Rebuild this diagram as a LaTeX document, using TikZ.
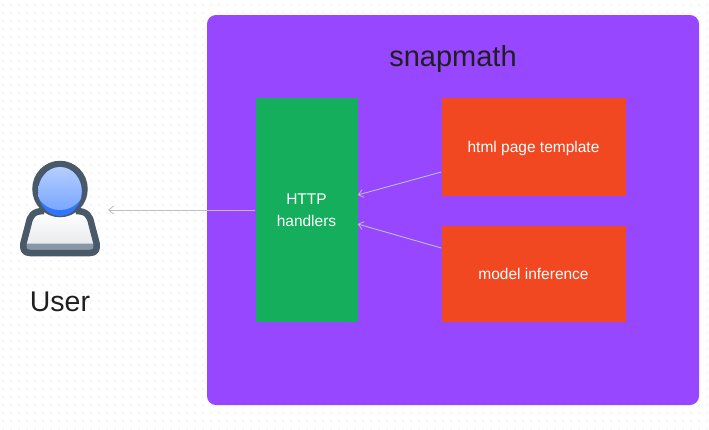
\documentclass[tikz,border=0pt]{standalone}
\usepackage{fontspec}
\setmainfont{Liberation Sans}
\usetikzlibrary{arrows.meta}
\definecolor{purp}{HTML}{9747FF}
\definecolor{grn}{HTML}{14AE5C}
\definecolor{org}{HTML}{F24822}
\definecolor{slate}{HTML}{4A5968}
\definecolor{strip}{HTML}{8797A5}
\definecolor{arrowc}{HTML}{BDBDC2}
\definecolor{dotc}{HTML}{F5F5F5}
\definecolor{headlo}{HTML}{2F75FF}
\definecolor{heada}{HTML}{B6CFFF}
\definecolor{headb}{HTML}{7AA6FF}
\definecolor{bodylo}{HTML}{E3E5E9}
\tikzset{
  x=1pt,y=-1pt,
  box/.style={minimum width=#1,inner sep=0pt},
  boxtext/.style={text=white,font=\fontsize{15.5}{18}\selectfont,align=center,inner sep=0pt},
  oneline/.style={boxtext,text height=11pt,text depth=0pt},
  bigtext/.style={font=\fontsize{29}{33}\selectfont,text=black!88},
  conn/.style={draw=arrowc,line width=0.9pt,-{Straight Barb[length=5pt,width=8pt,line width=0.8pt]}},
}
\begin{document}
\begin{tikzpicture}
\useasboundingbox (0,0) rectangle (709,429);
\fill[white] (0,0) rectangle (709,429);
\foreach \i in {0,...,88}{\foreach \j in {0,...,53}{
  \fill[dotc] ({2+8*\i},{4+8*\j}) rectangle +(2,2);
}}
\fill[purp,rounded corners=9pt] (207,15) rectangle (699,405);
\node[bigtext] (title) at (453,58.5) {snapmath};
\node[box=102,minimum height=224,fill=grn,label={[boxtext,yshift=-1pt]center:HTTP\\[4pt]handlers}] (http) at (306.5,209.5) {};
\node[box=184,minimum height=98,fill=org,label={[oneline]center:html page template}] (tmpl) at (533.5,146.5) {};
\node[box=184,minimum height=96,fill=org,label={[oneline]center:model inference}] (model) at (533.5,273.5) {};
% user icon
\coordinate (ua) at (108,210);
\node[bigtext,font=\fontsize{28.5}{33}\selectfont] (ulabel) at (60,302) {User};
\path[top color=white,bottom color=bodylo]
  (44,211) .. controls (33,211) and (30,216) .. (28.5,224) -- (23.5,243) .. controls (22.5,249) and (24,253) .. (30,253)
  -- (90,253) .. controls (96,253) and (97.5,249) .. (96.5,243) -- (91.5,224) .. controls (90,216) and (87,211) .. (76,211) -- cycle;
\fill[strip] (25,243.5) -- (95,243.5) -- (97,253) -- (23,253) -- cycle;
\draw[slate,line width=6.5pt,line join=round]
  (44,211) .. controls (33,211) and (30,216) .. (28.5,224) -- (23.5,243) .. controls (22.5,249) and (24,253) .. (30,253)
  -- (90,253) .. controls (96,253) and (97.5,249) .. (96.5,243) -- (91.5,224) .. controls (90,216) and (87,211) .. (76,211);
\draw[slate,line width=6.5pt,fill=slate] (60,189) ellipse (24.5 and 25);
\fill[headlo] (60,191.5) ellipse (21.8 and 24.5);
\begin{scope}
\clip (60,191.5) ellipse (21.8 and 24.5);
\shade[top color=heada,bottom color=headb] (60,188) ellipse (24 and 22);
\end{scope}
\draw[conn] (http.west |- ua) -- (ua);
\draw[conn] (tmpl.west |- 0,172) coordinate (t1) -- (http.east |- 0,195) coordinate (t2);
\draw[conn] (model.west |- 0,248) coordinate (m1) -- (http.east |- 0,224) coordinate (m2);
\end{tikzpicture}
\end{document}
